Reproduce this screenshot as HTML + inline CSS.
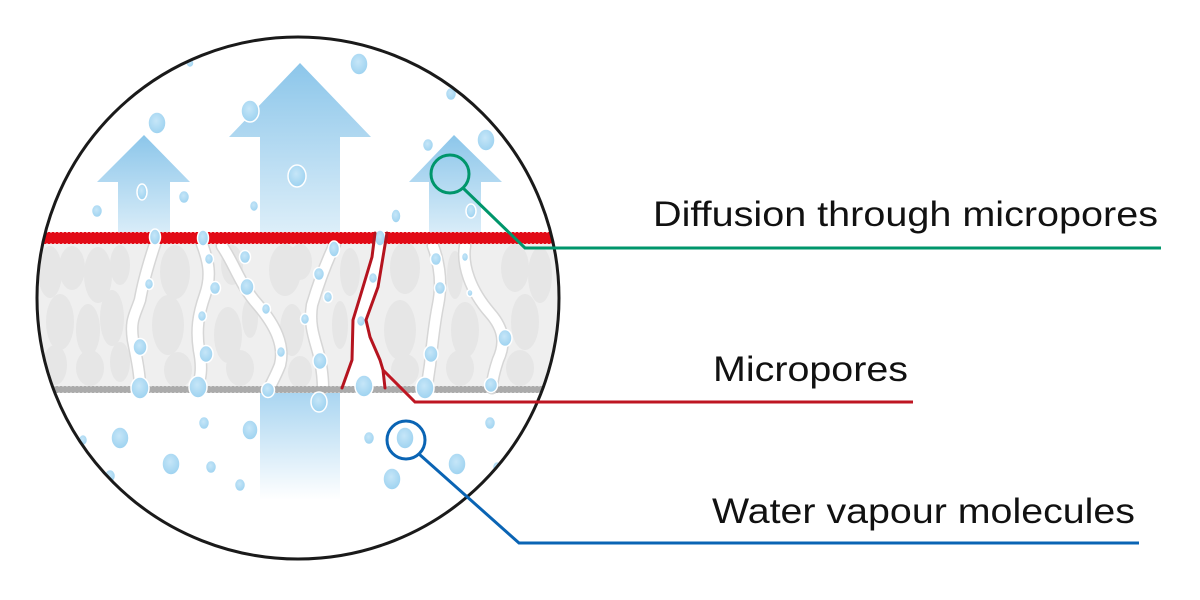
<!DOCTYPE html>
<html>
<head>
<meta charset="utf-8">
<style>
  html,body{margin:0;padding:0;background:#ffffff;}
  svg{display:block;}
</style>
</head>
<body>
<svg width="1200" height="600" viewBox="0 0 1200 600" xmlns="http://www.w3.org/2000/svg">
  <defs>
    <clipPath id="circ"><circle cx="298" cy="298" r="261"/></clipPath>
    <linearGradient id="gL" x1="0" y1="135" x2="0" y2="244" gradientUnits="userSpaceOnUse">
      <stop offset="0" stop-color="#8cc6ea"/>
      <stop offset="1" stop-color="#e2f1fa"/>
    </linearGradient>
    <linearGradient id="gM" x1="0" y1="63" x2="0" y2="244" gradientUnits="userSpaceOnUse">
      <stop offset="0" stop-color="#8cc6ea"/>
      <stop offset="1" stop-color="#e2f1fa"/>
    </linearGradient>
    <linearGradient id="gB" x1="0" y1="392" x2="0" y2="500" gradientUnits="userSpaceOnUse">
      <stop offset="0" stop-color="#a9d5f1"/>
      <stop offset="1" stop-color="#ffffff"/>
    </linearGradient>
    <radialGradient id="drop" cx="0.45" cy="0.4" r="0.6">
      <stop offset="0" stop-color="#c6e6f8"/>
      <stop offset="1" stop-color="#9dd2f0"/>
    </radialGradient>
  </defs>

  <g clip-path="url(#circ)">
    <rect x="0" y="0" width="1200" height="600" fill="#ffffff"/>

    <polygon points="144,135 190,182 170,182 170,244 118,244 118,182 97,182" fill="url(#gL)"/>
    <polygon points="300,63 371,137 340,137 340,244 260,244 260,137 229,137" fill="url(#gM)"/>
    <polygon points="454,135 502,182 481,182 481,244 429,244 429,182 409,182" fill="url(#gL)"/>
    <rect x="260" y="392" width="80" height="110" fill="url(#gB)"/>

    <rect x="30" y="244" width="540" height="143" fill="#efefef"/>
    <g fill="#dcdcdc" opacity="0.45">
      <ellipse cx="50" cy="272" rx="12" ry="26"/>
      <ellipse cx="72" cy="268" rx="13" ry="22"/>
      <ellipse cx="98" cy="275" rx="14" ry="28"/>
      <ellipse cx="120" cy="265" rx="10" ry="20"/>
      <ellipse cx="175" cy="272" rx="15" ry="27"/>
      <ellipse cx="232" cy="265" rx="11" ry="20"/>
      <ellipse cx="285" cy="270" rx="16" ry="26"/>
      <ellipse cx="300" cy="262" rx="12" ry="18"/>
      <ellipse cx="350" cy="272" rx="10" ry="24"/>
      <ellipse cx="405" cy="268" rx="15" ry="26"/>
      <ellipse cx="455" cy="275" rx="8" ry="24"/>
      <ellipse cx="515" cy="268" rx="14" ry="24"/>
      <ellipse cx="540" cy="275" rx="12" ry="28"/>
      <ellipse cx="60" cy="322" rx="14" ry="28"/>
      <ellipse cx="88" cy="330" rx="12" ry="26"/>
      <ellipse cx="112" cy="318" rx="12" ry="28"/>
      <ellipse cx="168" cy="325" rx="16" ry="30"/>
      <ellipse cx="228" cy="335" rx="14" ry="28"/>
      <ellipse cx="250" cy="318" rx="8" ry="20"/>
      <ellipse cx="292" cy="330" rx="12" ry="26"/>
      <ellipse cx="340" cy="325" rx="8" ry="24"/>
      <ellipse cx="400" cy="330" rx="16" ry="30"/>
      <ellipse cx="465" cy="330" rx="14" ry="28"/>
      <ellipse cx="525" cy="322" rx="14" ry="28"/>
      <ellipse cx="55" cy="365" rx="12" ry="20"/>
      <ellipse cx="90" cy="368" rx="14" ry="18"/>
      <ellipse cx="120" cy="362" rx="10" ry="20"/>
      <ellipse cx="178" cy="370" rx="14" ry="18"/>
      <ellipse cx="240" cy="368" rx="14" ry="18"/>
      <ellipse cx="300" cy="372" rx="12" ry="16"/>
      <ellipse cx="405" cy="370" rx="14" ry="16"/>
      <ellipse cx="460" cy="368" rx="14" ry="18"/>
      <ellipse cx="520" cy="368" rx="14" ry="18"/>
    </g>

    <g fill="none" stroke-linecap="round">
      <g stroke="#d6d6d6" stroke-width="13">
        <path d="M155,244 C148,265 143,283 140,300 C135,315 130,320 133,340 C137,360 140,375 140,388"/>
        <path d="M202,244 C208,260 212,275 205,295 C198,315 196,330 199,350 C203,370 200,380 197,388"/>
        <path d="M222,246 C235,265 240,285 258,305 C275,325 285,345 280,365 C275,378 270,385 270,388"/>
        <path d="M335,244 C325,265 318,285 312,305 C308,330 318,345 321,365 C323,378 323,385 323,388"/>
        <path d="M433,246 C440,265 442,285 438,305 C434,325 432,345 430,365 C428,378 427,385 427,388"/>
        <path d="M465,246 C462,265 470,290 490,313 C505,330 505,345 498,360 C494,372 492,380 492,388"/>
      </g>
      <g stroke="#ffffff" stroke-width="10">
        <path d="M155,244 C148,265 143,283 140,300 C135,315 130,320 133,340 C137,360 140,375 140,388"/>
        <path d="M202,244 C208,260 212,275 205,295 C198,315 196,330 199,350 C203,370 200,380 197,388"/>
        <path d="M222,246 C235,265 240,285 258,305 C275,325 285,345 280,365 C275,378 270,385 270,388"/>
        <path d="M335,244 C325,265 318,285 312,305 C308,330 318,345 321,365 C323,378 323,385 323,388"/>
        <path d="M433,246 C440,265 442,285 438,305 C434,325 432,345 430,365 C428,378 427,385 427,388"/>
        <path d="M465,246 C462,265 470,290 490,313 C505,330 505,345 498,360 C494,372 492,380 492,388"/>
      </g>
    </g>
    <polygon points="375,233 371,257 360,297 353,320 352,360 342,388 385,388 383,370 380,360 370,337 366,320 378,287 387,233" fill="#ffffff"/>

    <rect x="30" y="232" width="540" height="12" fill="#e20a16"/>
    <line x1="30" y1="232.5" x2="570" y2="232.5" stroke="#ffffff" stroke-width="1" stroke-dasharray="2 2" opacity="0.5"/>
    <line x1="30" y1="243.5" x2="570" y2="243.5" stroke="#ffffff" stroke-width="1" stroke-dasharray="2 2" opacity="0.5"/>

    <rect x="30" y="386" width="540" height="7" fill="#ababab"/>
    <line x1="30" y1="386.5" x2="570" y2="386.5" stroke="#ffffff" stroke-width="1" stroke-dasharray="2 2" opacity="0.35"/>
    <line x1="30" y1="392.5" x2="570" y2="392.5" stroke="#ffffff" stroke-width="1" stroke-dasharray="2 2" opacity="0.35"/>

    <g fill="url(#drop)" stroke="#ffffff" stroke-width="1.5">
      <ellipse cx="359" cy="64" rx="9" ry="11"/>
      <ellipse cx="451" cy="94" rx="5.5" ry="6.5"/>
      <ellipse cx="157" cy="123" rx="9" ry="11"/>
      <ellipse cx="250" cy="111" rx="9" ry="11"/>
      <ellipse cx="142" cy="192" rx="5" ry="8"/>
      <ellipse cx="184" cy="197" rx="5.5" ry="6.5"/>
      <ellipse cx="97" cy="211" rx="5.5" ry="6.5"/>
      <ellipse cx="254" cy="206" rx="4.5" ry="5.5"/>
      <ellipse cx="297" cy="176" rx="9" ry="11"/>
      <ellipse cx="428" cy="145" rx="5.5" ry="6.5"/>
      <ellipse cx="486" cy="140" rx="9" ry="11"/>
      <ellipse cx="396" cy="216" rx="5" ry="7"/>
      <ellipse cx="471" cy="211" rx="5" ry="7"/>
      <ellipse cx="190" cy="63" rx="4" ry="4.5"/>
      <ellipse cx="155" cy="237" rx="5.5" ry="8"/>
      <ellipse cx="203" cy="238" rx="5.5" ry="8"/>
      <ellipse cx="334" cy="249" rx="5.5" ry="8"/>
      <ellipse cx="380" cy="238" rx="5.5" ry="8"/>
      <ellipse cx="149" cy="284" rx="4.5" ry="5.5"/>
      <ellipse cx="209" cy="259" rx="4.5" ry="5.5"/>
      <ellipse cx="215" cy="288" rx="5.5" ry="6.5"/>
      <ellipse cx="245" cy="257" rx="5.5" ry="6.5"/>
      <ellipse cx="247" cy="287" rx="7" ry="8.5"/>
      <ellipse cx="266" cy="309" rx="4.5" ry="5.5"/>
      <ellipse cx="305" cy="319" rx="4.5" ry="5.5"/>
      <ellipse cx="319" cy="274" rx="5.5" ry="6.5"/>
      <ellipse cx="328" cy="297" rx="4.5" ry="5.5"/>
      <ellipse cx="361" cy="321" rx="4.5" ry="5.5"/>
      <ellipse cx="373" cy="278" rx="4.5" ry="5.5"/>
      <ellipse cx="436" cy="259" rx="5.5" ry="6.5"/>
      <ellipse cx="440" cy="288" rx="5.5" ry="6.5"/>
      <ellipse cx="465" cy="257" rx="3.5" ry="4.5"/>
      <ellipse cx="470" cy="293" rx="3" ry="3.5"/>
      <ellipse cx="140" cy="347" rx="7" ry="8.5"/>
      <ellipse cx="206" cy="354" rx="7" ry="8.5"/>
      <ellipse cx="202" cy="316" rx="4.5" ry="5.5"/>
      <ellipse cx="281" cy="352" rx="4.5" ry="5.5"/>
      <ellipse cx="320" cy="361" rx="7" ry="8.5"/>
      <ellipse cx="431" cy="354" rx="7" ry="8.5"/>
      <ellipse cx="505" cy="338" rx="7" ry="8.5"/>
      <ellipse cx="140" cy="388" rx="9" ry="11"/>
      <ellipse cx="198" cy="387" rx="9" ry="11"/>
      <ellipse cx="268" cy="390" rx="6.5" ry="7.5"/>
      <ellipse cx="364" cy="386" rx="9" ry="11"/>
      <ellipse cx="425" cy="388" rx="9" ry="11"/>
      <ellipse cx="491" cy="385" rx="6.5" ry="7.5"/>
      <ellipse cx="319" cy="402" rx="8" ry="10"/>
      <ellipse cx="204" cy="423" rx="5.5" ry="6.5"/>
      <ellipse cx="250" cy="430" rx="8" ry="10"/>
      <ellipse cx="120" cy="438" rx="9" ry="11"/>
      <ellipse cx="83" cy="440" rx="4.5" ry="5.5"/>
      <ellipse cx="171" cy="464" rx="9" ry="11"/>
      <ellipse cx="211" cy="467" rx="5.5" ry="6.5"/>
      <ellipse cx="110" cy="476" rx="5.5" ry="6.5"/>
      <ellipse cx="240" cy="485" rx="5.5" ry="6.5"/>
      <ellipse cx="369" cy="438" rx="5.5" ry="6.5"/>
      <ellipse cx="405" cy="438" rx="9" ry="11"/>
      <ellipse cx="490" cy="423" rx="5.5" ry="6.5"/>
      <ellipse cx="457" cy="464" rx="9" ry="11"/>
      <ellipse cx="392" cy="479" rx="9" ry="11"/>
      <ellipse cx="497" cy="467" rx="4.5" ry="5.5"/>
    </g>

    <g fill="none" stroke="#b5141f" stroke-width="3" stroke-linejoin="round" stroke-linecap="round">
      <polyline points="375,233 372,257 360,297 353,320 352,360 342,388"/>
      <polyline points="387,233 378,287 366,320 370,337 380,360 383,370 385,388"/>
    </g>
  </g>

  <circle cx="298" cy="298" r="261" fill="none" stroke="#1a1a1a" stroke-width="3"/>

  <g fill="none" stroke-width="3" stroke-linejoin="miter">
    <circle cx="450" cy="174" r="19" stroke="#00966b"/>
    <polyline points="463,188 525,248 1161,248" stroke="#00966b"/>
    <polyline points="383,370 415,402 913,402" stroke="#be1622"/>
    <circle cx="406" cy="440" r="19" stroke="#0a64b4"/>
    <polyline points="419,454 519,543 1139,543" stroke="#0a64b4"/>
  </g>

  <g font-family="Liberation Sans, Arial, sans-serif" font-size="35" fill="#111111">
    <text x="653" y="226" textLength="505" lengthAdjust="spacingAndGlyphs">Diffusion through micropores</text>
    <text x="713" y="381" textLength="195" lengthAdjust="spacingAndGlyphs">Micropores</text>
    <text x="712" y="523" textLength="423" lengthAdjust="spacingAndGlyphs">Water vapour molecules</text>
  </g>
</svg>
</body>
</html>
